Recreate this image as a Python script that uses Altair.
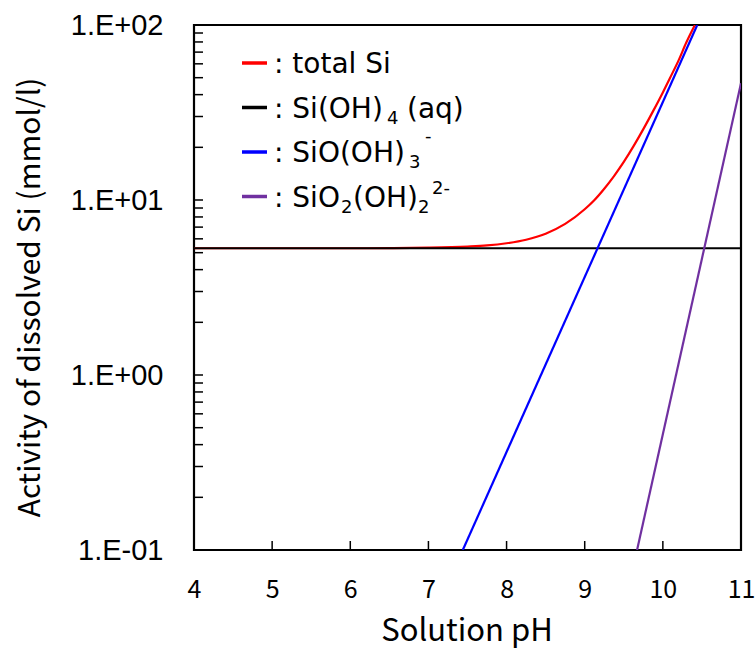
import altair as alt
import pandas as pd

# pH axis and the four silica species curves (activity in mmol/l)
ph_total = [4, 5, 6, 6.5, 7, 7.5, 7.75, 8, 8.25, 8.5, 8.75, 9, 9.125, 9.25, 9.375, 9.5,
            9.625, 9.75, 9.875, 10, 10.1, 10.2, 10.3, 10.41]
act_total = [5.3, 5.3, 5.3, 5.31, 5.34, 5.42, 5.5, 5.66, 5.93, 6.42, 7.3, 8.85, 10.0, 11.6,
             13.7, 16.5, 20.3, 25.4, 32.2, 41.2, 50.7, 62.6, 79.4, 100.0]

ph_neutral = [4, 11]
act_neutral = [5.3, 5.3]

ph_mono = [7.44, 10.44]
act_mono = [0.1, 100.0]

ph_di = [9.67, 11.0]
act_di = [0.1, 46.5]

x_ticks = [5, 6, 7, 8, 9, 10]
x_labels = [4, 5, 6, 7, 8, 9, 10, 11]
y_major = [0.1, 1, 10, 100]
y_minor = [m * d for d in (0.1, 1, 10) for m in range(2, 10)]

series_names = ["total Si", "Si(OH)4", "SiO(OH)3-", "SiO2(OH)2 2-"]
series_colors = ["#FF0000", "#000000", "#0000FF", "#7030A0"]

frames = []
for name, xs, ys in zip(series_names,
                        [ph_total, ph_neutral, ph_mono, ph_di],
                        [act_total, act_neutral, act_mono, act_di]):
    frames.append(pd.DataFrame({"pH": xs, "act": ys, "series": name}))
lines_df = pd.concat(frames, ignore_index=True)

W, H = 547, 525

x_scale = alt.Scale(domain=[4, 11], nice=False, zero=False)
y_scale = alt.Scale(type="log", domain=[0.1, 100], nice=False)

label_expr = ("datum.value >= 99 ? '1.E+02' : datum.value >= 9 ? '1.E+01' : "
              "datum.value >= 0.9 ? '1.E+00' : '1.E-01'")

lines = alt.Chart(lines_df).mark_line(strokeWidth=2.2, clip=True, interpolate="monotone").encode(
    x=alt.X("pH:Q", scale=x_scale,
            axis=alt.Axis(values=x_labels, format="d", ticks=False, grid=False, domain=False,
                          labelPadding=27, labelFont="Noto Sans CJK JP", labelFontSize=25,
                          labelColor="#000000", labelFlush=False,
                          title="Solution pH", titleFont="Noto Sans CJK JP",
                          titleFontSize=31, titleFontWeight="normal", titleColor="#000000",
                          titleX=W / 2 - 1, titleY=81, titleBaseline="middle",
                          titleAnchor="middle")),
    y=alt.Y("act:Q", scale=y_scale,
            axis=alt.Axis(values=y_major, ticks=False, grid=False, domain=False,
                          labelExpr=label_expr, labelPadding=31,
                          labelFont="Liberation Sans", labelFontSize=29,
                          labelColor="#000000",
                          title="Activity of dissolved Si (mmol/l)",
                          titleFont="Noto Sans CJK JP", titleFontSize=30,
                          titleFontWeight="normal", titleColor="#000000",
                          titleAngle=-90, titleX=-164, titleY=272,
                          titleBaseline="middle", titleAlign="center")),
    color=alt.Color("series:N", scale=alt.Scale(domain=series_names, range=series_colors),
                    legend=None),
    order=alt.Order("pH:Q"),
)

# inward tick marks along the bottom and left edges
x_tick_marks = alt.Chart(pd.DataFrame({"pH": x_ticks})).mark_rule(
    color="#000000", strokeWidth=1.5).encode(
    x=alt.X("pH:Q", scale=x_scale), y=alt.value(H), y2=alt.value(H - 9))

y_tick_marks = alt.Chart(pd.DataFrame({"act": y_major[1:3] + y_minor})).mark_rule(
    color="#000000", strokeWidth=1.5).encode(
    y=alt.Y("act:Q", scale=y_scale), x=alt.value(0), x2=alt.value(9))

# hand-built key with chemical sub/superscripts
one = pd.DataFrame({"k": [0]})
key_rows = [48, 92.5, 137, 181.5]
key_layers = []
for color, yb in zip(series_colors, key_rows):
    key_layers.append(alt.Chart(one).mark_rule(color=color, strokeWidth=3.5).encode(
        x=alt.value(48), x2=alt.value(73), y=alt.value(yb - 10)))

def piece(text, x, y, size=28):
    return alt.Chart(one).mark_text(
        text=text, align="left", baseline="alphabetic", font="DejaVu Sans",
        fontSize=size, color="#000000").encode(x=alt.value(x), y=alt.value(y))

SUB = 18
key_layers += [
    piece(": total Si", 80, key_rows[0]),
    piece(": Si(OH)", 80, key_rows[1]),
    piece("4", 193, key_rows[1] + 6, SUB),
    piece("(aq)", 213, key_rows[1]),
    piece(": SiO(OH)", 80, key_rows[2]),
    piece("3", 215, key_rows[2] + 6, SUB),
    piece("-", 231, key_rows[2] - 20, SUB),
    piece(": SiO", 80, key_rows[3]),
    piece("2", 147, key_rows[3] + 6, SUB),
    piece("(OH)", 159, key_rows[3]),
    piece("2", 224, key_rows[3] + 6, SUB),
    piece("2-", 238, key_rows[3] - 13, SUB),
]

chart = alt.layer(lines, x_tick_marks, y_tick_marks, *key_layers).properties(
    width=W, height=H,
    autosize=alt.AutoSizeParams(type="none"),
    padding={"left": 194, "top": 25, "right": 15, "bottom": 98},
    background="#FFFFFF",
).configure_view(stroke="#000000", strokeWidth=2.2)

chart.save("out.html", embed_options={"renderer": "svg", "actions": False})
